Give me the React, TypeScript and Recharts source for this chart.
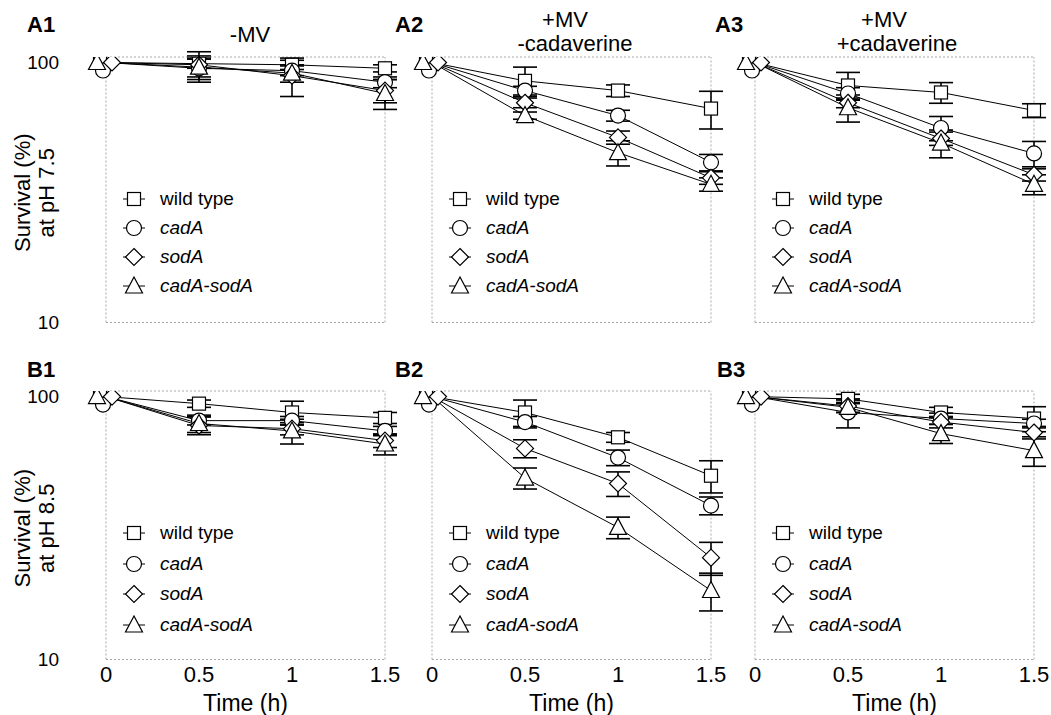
import { ErrorBar, Legend, Line, LineChart, ReferenceLine, XAxis, YAxis } from 'recharts'

const FONT = '"Liberation Sans", Arial, Helvetica, sans-serif'

const times = [0, 0.5, 1, 1.5]
const xTicks = [0, 0.5, 1, 1.5]
const yTicks = [10, 100]
const strains = ['wild type', 'cadA', 'sodA', 'cadA-sodA']
const strainKeys = ['wt', 'cadA', 'sodA', 'cadAsodA']

// survival (%), rows follow strains, columns follow times
const a1Survival = [[100, 99, 98, 95], [100, 95, 93, 84], [100, 98, 89, 78], [100, 96, 91, 76]]
const a1Error = [[0, 4, 4, 3], [0, 11, 4, 4], [0, 12, 15, 8], [0, 8, 7, 10]]
const a2Survival = [[100, 85, 78, 66.5], [100, 78, 62.5, 41.3], [100, 70, 51.5, 36], [100, 62.5, 45, 34]]
const a2Error = [[0, 11, 4, 11], [0, 3, 3, 3], [0, 3, 3, 2], [0, 2, 5, 2]]
const a3Survival = [[100, 81.6, 76.7, 65.4], [100, 76, 56, 44.7], [100, 70, 51, 37], [100, 67, 49, 34]]
const a3Error = [[0, 10, 7, 4], [0, 4, 6, 5], [0, 3, 3, 2], [0, 8, 6, 3]]
const b1Survival = [[100, 94, 87, 83], [100, 81, 81, 74], [100, 77.6, 75.5, 68], [100, 79, 74, 66]]
const b1Error = [[0, 3, 9, 4], [0, 3, 3, 3], [0, 6, 4, 4], [0, 6, 8, 6]]
const b2Survival = [[100, 87, 70, 50], [100, 80, 58.6, 38.5], [100, 63.5, 46.7, 24.4], [100, 49, 31.8, 18.3]]
const b2Error = [[0, 10, 3, 7], [0, 4, 4, 3], [0, 5, 5, 3.5], [0, 4.5, 3, 3]]
const b3Survival = [[100, 98, 87, 82.5], [100, 87, 82.5, 79], [100, 92, 80, 73], [100, 91, 72.3, 62.3]]
const b3Error = [[0, 4, 4, 9], [0, 11, 4, 3], [0, 5, 4, 4], [0, 4, 6, 8]]

const panels = [
  { key: 'A1', row: 0, col: 0, values: a1Survival, errors: a1Error, yLabel: 'at pH 7.5' },
  { key: 'A2', row: 0, col: 1, values: a2Survival, errors: a2Error },
  { key: 'A3', row: 0, col: 2, values: a3Survival, errors: a3Error },
  { key: 'B1', row: 1, col: 0, values: b1Survival, errors: b1Error, yLabel: 'at pH 8.5' },
  { key: 'B2', row: 1, col: 1, values: b2Survival, errors: b2Error },
  { key: 'B3', row: 1, col: 2, values: b3Survival, errors: b3Error },
]

const PLOT_W = 279
const Y_AXIS_W = 60
const PAD_X = 14
const PAD_TOP = 18
const COL_LEFT = [106, 432, 755]
const ROW_TOP = [56.5, 390.5]
const ROW_H = [265.5, 268.5]
const LEGEND_ROW = [29, 30.5]
const FRAME = { stroke: '#a8a8a8', strokeDasharray: '2 2', strokeWidth: 1 }
const FRAME_SEGMENTS = [
  [{ x: 0, y: 10 }, { x: 0, y: 105 }],
  [{ x: 1.5, y: 10 }, { x: 1.5, y: 105 }],
  [{ x: 0, y: 10 }, { x: 1.5, y: 10 }],
  [{ x: 0, y: 105 }, { x: 1.5, y: 105 }],
]

// small nudge of the t=0 markers so the four overlapping symbols stay visible
const ZERO_NUDGE = [[-6, -5], [-3, 8], [6, 0], [-9, 0]]

function Marker({ shape, x, y }: { shape: number; x: number; y: number }) {
  const st = { fill: '#fff', stroke: '#000', strokeWidth: 1.2 }
  if (shape === 0) return <rect x={x - 6.5} y={y - 6.5} width={13} height={13} {...st} />
  if (shape === 1) return <circle cx={x} cy={y} r={7.5} {...st} />
  if (shape === 2) return <polygon points={`${x},${y - 8.5} ${x + 8.5},${y} ${x},${y + 8.5} ${x - 8.5},${y}`} {...st} />
  return <polygon points={`${x},${y - 9} ${x + 8.5},${y + 7} ${x - 8.5},${y + 7}`} {...st} />
}

function dotFor(shape: number) {
  return (props: any) => {
    const { cx, cy, index } = props
    if (cx == null || cy == null) return <g key={`d${shape}-${index}`} />
    const [dx, dy] = index === 0 ? ZERO_NUDGE[shape] : [0, 0]
    return (
      <g key={`d${shape}-${index}`}>
        <Marker shape={shape} x={cx + dx} y={cy + dy} />
      </g>
    )
  }
}

function PanelLegend({ rowH }: { rowH: number }) {
  return (
    <div style={{ fontFamily: FONT, fontSize: 19, color: '#000' }}>
      {strains.map((name, s) => (
        <div key={name} style={{ display: 'flex', alignItems: 'center', height: rowH, whiteSpace: 'nowrap' }}>
          <svg width={30} height={22}>
            <line x1={4} x2={26} y1={11} y2={11} stroke="#000" strokeWidth={1} />
            <Marker shape={s} x={15} y={11} />
          </svg>
          <span style={{ marginLeft: 11, fontStyle: s === 0 ? 'normal' : 'italic' }}>{name}</span>
        </div>
      ))}
    </div>
  )
}

function YLabel({ cy, second }: { cy: number; second: string }) {
  // chart of the first column starts PAD_X px left of the page edge
  const cx = 35 + PAD_X
  return (
    <text x={cx} y={cy} transform={`rotate(-90 ${cx} ${cy})`} textAnchor="middle" fontFamily={FONT} fontSize={22} fill="#000">
      <tspan x={cx} dy={-5}>Survival (%)</tspan>
      <tspan x={cx} dy={24}>{second}</tspan>
    </text>
  )
}

function TimeLabel({ viewBox }: any) {
  return (
    <text x={viewBox.x + viewBox.width / 2} y={viewBox.y + 51} textAnchor="middle" fontFamily={FONT} fontSize={23} fill="#000">
      Time (h)
    </text>
  )
}

function Panel({ p }: { p: (typeof panels)[number] }) {
  const ml = p.col === 0 ? 46 : 0
  const frameH = ROW_H[p.row]
  const xAxisH = p.row === 1 ? 56 : 10
  const width = ml + Y_AXIS_W + PAD_X * 2 + PLOT_W + 20
  const height = 10 + PAD_TOP + frameH + xAxisH
  const data = times.map((t, i) => {
    const row: Record<string, number | undefined> = { t }
    strainKeys.forEach((k, s) => {
      row[k] = p.values[s][i]
      const e = p.errors[s][i]
      row[`${k}Err`] = e > 0 ? e : undefined
    })
    return row
  })
  const rowH = LEGEND_ROW[p.row]
  const frameTop = 10 + PAD_TOP
  return (
    <div style={{ position: 'absolute', left: COL_LEFT[p.col] - PAD_X - Y_AXIS_W - ml, top: ROW_TOP[p.row] - frameTop }}>
      <LineChart width={width} height={height} data={data} margin={{ top: 10, right: 20, bottom: 0, left: ml }}>
        <XAxis
          dataKey="t"
          type="number"
          domain={[0, 1.5]}
          padding={{ left: PAD_X, right: PAD_X }}
          ticks={xTicks}
          interval={0}
          tick={p.row === 1 ? { fontFamily: FONT, fontSize: 22, fill: '#000' } : false}
          tickLine={false}
          axisLine={false}
          tickSize={0}
          tickMargin={7}
          height={xAxisH}
          label={p.row === 1 ? <TimeLabel /> : undefined}
        />
        <YAxis
          type="number"
          scale="log"
          domain={[10, 105]}
          allowDataOverflow
          padding={{ top: PAD_TOP, bottom: 0 }}
          ticks={yTicks}
          interval={0}
          width={Y_AXIS_W}
          tick={p.col === 0 ? { fontFamily: FONT, fontSize: 19, fill: '#000' } : false}
          tickLine={false}
          axisLine={false}
          tickSize={0}
          tickMargin={19 + PAD_X}
          label={p.yLabel ? <YLabel cy={frameTop + frameH / 2 + 3} second={p.yLabel} /> : undefined}
        />
        {FRAME_SEGMENTS.map((seg, i) => (
          <ReferenceLine key={i} segment={seg} {...FRAME} />
        ))}
        {strainKeys.map((k, s) => (
          <Line
            key={k}
            dataKey={k}
            name={strains[s]}
            type="linear"
            stroke="#000"
            strokeWidth={1}
            dot={dotFor(s)}
            activeDot={false}
            isAnimationActive={false}
          >
            <ErrorBar dataKey={`${k}Err`} width={12} stroke="#000" strokeWidth={1.6} direction="y" />
          </Line>
        ))}
        <Legend
          layout="vertical"
          align="center"
          verticalAlign="middle"
          wrapperStyle={{ top: frameTop + 142.5 - rowH / 2, left: ml + Y_AXIS_W + PAD_X + 13, width: 'auto' }}
          content={() => <PanelLegend rowH={rowH} />}
        />
      </LineChart>
    </div>
  )
}

export default function App() {
  return (
    <div style={{ position: 'absolute', left: 0, top: 0, width: 1051, height: 715, background: '#fff', overflow: 'hidden' }}>
      {panels.map(p => (
        <Panel key={p.key} p={p} />
      ))}
      <svg width={1051} height={715} style={{ position: 'absolute', left: 0, top: 0, pointerEvents: 'none' }} fontFamily={FONT} fill="#000">
        <text x={27} y={32} fontSize={22} fontWeight="bold">A1</text>
        <text x={395} y={32} fontSize={22} fontWeight="bold">A2</text>
        <text x={715} y={32} fontSize={22} fontWeight="bold">A3</text>
        <text x={27} y={377} fontSize={22} fontWeight="bold">B1</text>
        <text x={395} y={377} fontSize={22} fontWeight="bold">B2</text>
        <text x={717} y={377} fontSize={22} fontWeight="bold">B3</text>
        <text x={250} y={42} fontSize={22} textAnchor="middle">-MV</text>
        <text x={565} y={27} fontSize={22} textAnchor="middle">+MV</text>
        <text x={575} y={51} fontSize={22} textAnchor="middle">-cadaverine</text>
        <text x={884} y={27} fontSize={22} textAnchor="middle">+MV</text>
        <text x={897} y={51} fontSize={22} textAnchor="middle">+cadaverine</text>
      </svg>
    </div>
  )
}
